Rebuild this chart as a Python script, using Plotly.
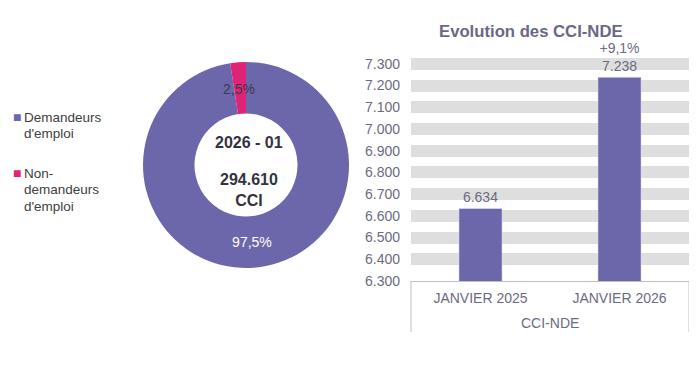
import plotly.graph_objects as go

# Data
pie_labels = ["Demandeurs<br>d'emploi", "Non-<br>demandeurs<br>d'emploi"]
total_cci = 294610
nde_value = 7238
pie_values = [total_cci - nde_value, nde_value]
period_label = "2026 - 01"

bar_group = "CCI-NDE"
bar_categories = ["JANVIER 2025", "JANVIER 2026"]
bar_values = [6634, 7238]

PURPLE = "#6c67ab"
PINK = "#df2477"
TXT = "#6b6b80"
FONT = "Liberation Sans, Arial, sans-serif"

# page body has an 8px margin: figure is sized to fill the rest of the window
OFF = 8
W, H = 697 - OFF, 365 - OFF


def X(px):
    return (px - OFF) / W


def Y(py):
    return 1 - (py - OFF) / H


pie_colors = [PURPLE, PINK]
pct = [v / sum(pie_values) * 100 for v in pie_values]
pct_txt = [f"{p:.1f}".replace(".", ",") + "%" for p in pct]

growth = (bar_values[1] - bar_values[0]) / bar_values[0] * 100
growth_txt = ("+" if growth >= 0 else "") + f"{growth:.1f}".replace(".", ",") + "%"
bar_text = ["", growth_txt + "<br>"]

fig = go.Figure()

fig.add_trace(go.Pie(
    labels=pie_labels, values=pie_values, hole=0.5, sort=False,
    direction="clockwise", rotation=0,
    marker=dict(colors=pie_colors, line=dict(width=0)),
    texttemplate=["%{percent:.1%}", ""], textposition="inside",
    insidetextorientation="horizontal",
    textfont=dict(family=FONT, size=14, color="#ffffff"),
    domain=dict(x=[X(143), X(349)], y=[Y(268), Y(62)]),
    showlegend=False,
))

fig.add_trace(go.Bar(
    x=bar_categories, y=bar_values,
    marker=dict(color=PURPLE), width=0.31,
    text=bar_text, texttemplate="%{text}%{y:,.0f}", textposition="outside",
    textfont=dict(family=FONT, size=14, color=TXT),
    cliponaxis=False, showlegend=False,
))

annotations = [
    dict(text="<b>Evolution des CCI-NDE</b>", x=X(531), y=Y(32),
         xref="paper", yref="paper", xanchor="center", yanchor="middle",
         showarrow=False, font=dict(family=FONT, size=16.7, color="#6a6886")),
    dict(text=f"<b>{period_label}</b>", x=X(249), y=Y(142),
         xref="paper", yref="paper", xanchor="center", yanchor="middle",
         showarrow=False, font=dict(family=FONT, size=16, color="#333340")),
    dict(text="<b>" + f"{total_cci:,}".replace(",", ".") + "<br>CCI</b>",
         x=X(249), y=Y(190), xref="paper", yref="paper",
         xanchor="center", yanchor="middle", showarrow=False,
         font=dict(family=FONT, size=16, color="#333340")),
    # small-slice label
    dict(text=pct_txt[1], x=X(239), y=Y(89), xref="paper", yref="paper",
         xanchor="center", yanchor="middle", showarrow=False,
         font=dict(family=FONT, size=14, color="#3a3a4a")),
    # group label under the category axis
    dict(text=bar_group, x=0.5, y=Y(323), xref="x domain", yref="paper",
         xanchor="center", yanchor="middle", showarrow=False,
         font=dict(family=FONT, size=14, color=TXT)),
]

# legend built from the pie labels and colours
legend_first_line = [117, 173]
LINE_H = 16.5
for lab, col, y0 in zip(pie_labels, pie_colors, legend_first_line):
    annotations.append(dict(text="■", x=X(17), y=Y(y0), xref="paper", yref="paper",
                            xanchor="center", yanchor="middle", showarrow=False,
                            font=dict(family=FONT, size=14, color=col)))
    for i, line in enumerate(lab.split("<br>")):
        annotations.append(dict(text=line, x=X(22), y=Y(y0 + i * LINE_H),
                                xref="paper", yref="paper",
                                xanchor="left", yanchor="middle", showarrow=False,
                                font=dict(family=FONT, size=13.5, color="#404040")))

shapes = [
    dict(type="line", xref="x domain", yref="paper", x0=xx, x1=xx,
         y0=Y(281), y1=Y(332), line=dict(color="#bfbfbf", width=1))
    for xx in (0, 1)
]

fig.update_layout(
    width=W, height=H,
    margin=dict(l=0, r=0, t=0, b=0, autoexpand=False),
    paper_bgcolor="white", plot_bgcolor="white",
    separators=",.",
    font=dict(family=FONT, color="#404040"),
    uniformtext=dict(minsize=14, mode="show"),
    xaxis=dict(domain=[X(411), X(689)], type="category",
               showline=True, linecolor="#bfbfbf", linewidth=1,
               tickfont=dict(family=FONT, size=14, color=TXT),
               showgrid=False, ticks="", ticklabelstandoff=4),
    yaxis=dict(domain=[Y(281), Y(58)], range=[6300, 7327],
               tick0=6300, dtick=100, tickformat=",.0f",
               showgrid=True, gridcolor="#dedede", gridwidth=12,
               zeroline=False, showline=False, ticks="", ticklabelstandoff=10,
               tickfont=dict(family=FONT, size=14, color=TXT)),
    annotations=annotations,
    shapes=shapes,
)

fig.write_html("out.html")
